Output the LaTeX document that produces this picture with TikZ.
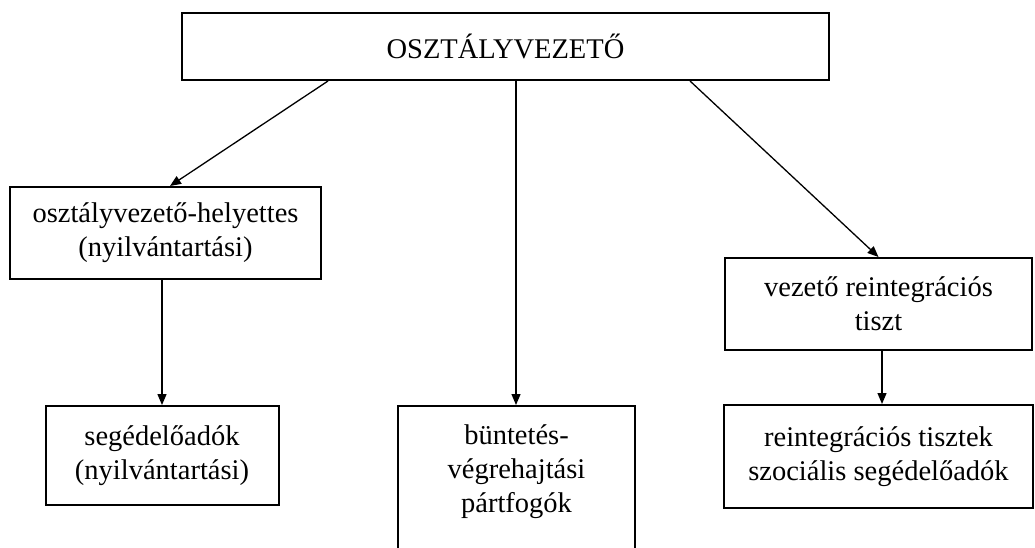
\documentclass[tikz,border=0pt]{standalone}
\usepackage{fontspec}
\setmainfont{Liberation Serif}
\usetikzlibrary{arrows.meta}
\begin{document}
\begin{tikzpicture}[x=1pt,y=-1pt,
  box/.style={draw, line width=2pt, rectangle, inner sep=0pt, align=center,
    font=\fontsize{28.5}{34}\selectfont},
  txt/.style={inner sep=0pt, align=center, font=\fontsize{28.5}{34}\selectfont},
  conn/.style={line width=1.3pt, -{Triangle[length=11pt,width=9pt]}}]
\useasboundingbox (0,0) rectangle (1035,548);
\node[box, minimum width=647pt, minimum height=67pt] (A) at (505.5,46.5) {OSZTÁLYVEZETŐ};
\node[box, minimum width=311pt, minimum height=92pt] (B) at (165.5,233) {osztályvezető-helyettes\\(nyilvántartási)};
\node[box, minimum width=307pt, minimum height=92pt] (D) at (878.5,304) {vezető reintegrációs\\tiszt};
\node[box, minimum width=233pt, minimum height=99pt] (E) at (162,455.5) {segédelőadók\\(nyilvántartási)};
\node[box, minimum width=237pt, minimum height=170pt, anchor=north] (F) at (516.5,405) {};
\node[txt, anchor=north] (Ft) at ([yshift=-19pt]F.north) {büntetés-\\végrehajtási\\pártfogók};
\node[box, minimum width=309pt, minimum height=103pt] (G) at (878.5,456.5) {reintegrációs tisztek\\szociális segédelőadók};
\draw[conn] ([xshift=-177.5pt]A.south) -- ([xshift=4.5pt]B.north);
\draw[conn] ([xshift=10.5pt]A.south) -- ([xshift=-0.5pt]F.north);
\draw[conn] ([xshift=184.5pt]A.south) -- (D.north);
\draw[conn] ([xshift=-3.5pt]B.south) -- (E.north);
\draw[conn] ([xshift=3.5pt]D.south) -- ([xshift=3.5pt]G.north);
\end{tikzpicture}
\end{document}
